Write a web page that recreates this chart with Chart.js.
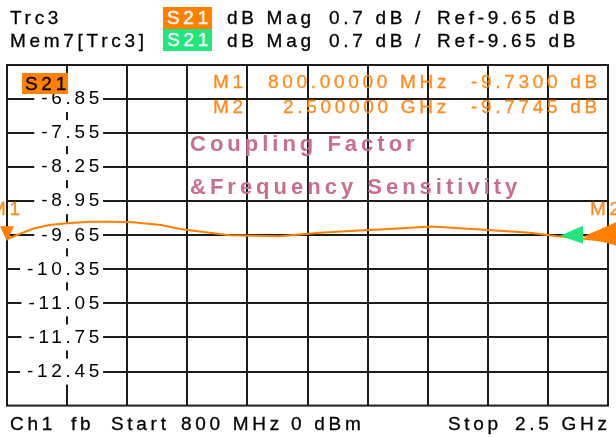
<!DOCTYPE html>
<html>
<head>
<meta charset="utf-8">
<script src="https://cdn.jsdelivr.net/npm/chart.js@4/dist/chart.umd.min.js"></script>
<style>
html,body{margin:0;padding:0;background:#fff;}
#wrap{position:relative;width:616px;height:437px;overflow:hidden;font-family:"Liberation Sans",Arial,sans-serif;}
#c{position:absolute;left:0;top:0;}
.t{position:absolute;white-space:pre;font-size:19px;line-height:22px;letter-spacing:3.7px;color:#000;pointer-events:none;-webkit-text-stroke:0.3px currentColor;}
.o{color:#ff8a1a;}
.box{position:absolute;height:22px;line-height:22px;font-size:19px;letter-spacing:3.7px;white-space:pre;padding-left:4px;box-sizing:border-box;-webkit-text-stroke:0.3px currentColor;}
.big{position:absolute;white-space:pre;font-size:22px;line-height:26px;font-weight:bold;letter-spacing:4px;color:#c96e92;}
</style>
</head>
<body>
<div id="wrap">
<canvas id="c" width="616" height="437"></canvas>

<!-- header -->
<div class="t" style="left:10px;top:7px;">Trc3</div>
<div class="box" style="left:163px;top:7px;width:49px;background:#ff7f00;color:#fff;">S21</div>
<div class="t" style="left:227px;top:7px;">dB Mag</div>
<div class="t" style="left:329px;top:7px;">0.7 dB /</div>
<div class="t" style="left:437px;top:7px;">Ref-9.65 dB</div>

<div class="t" style="left:10px;top:30px;">Mem7[Trc3]</div>
<div class="box" style="left:163px;top:29px;width:49px;background:#22e57c;color:#fff;">S21</div>
<div class="t" style="left:227px;top:30px;">dB Mag</div>
<div class="t" style="left:329px;top:30px;">0.7 dB /</div>
<div class="t" style="left:437px;top:30px;">Ref-9.65 dB</div>

<!-- trace label box in plot -->
<div class="box" style="left:22px;top:73px;width:46px;height:21px;line-height:21px;background:#ff7f00;color:#000;padding-left:3px;">S21</div>

<!-- marker info -->
<div class="t o" style="left:213px;top:71px;">M1</div>
<div class="t o" style="left:268px;top:71px;">800.00000 MHz</div>
<div class="t o" style="left:471px;top:71px;">-9.7300 dB</div>
<div class="t o" style="left:213px;top:96px;">M2</div>
<div class="t o" style="left:283px;top:96px;">2.500000 GHz</div>
<div class="t o" style="left:471px;top:96px;">-9.7745 dB</div>

<!-- annotation -->
<div class="big" style="left:190px;top:131px;">Coupling Factor</div>
<div class="big" style="left:190px;top:174px;">&amp;Frequency Sensitivity</div>

<!-- marker labels -->
<div class="t o" style="left:-10px;top:198px;">M1</div>
<div class="t o" style="left:590px;top:198px;">M2</div>

<!-- footer -->
<div class="t" style="left:10px;top:413px;">Ch1</div>
<div class="t" style="left:71px;top:413px;">fb</div>
<div class="t" style="left:111px;top:413px;">Start</div>
<div class="t" style="left:181px;top:413px;">800 MHz</div>
<div class="t" style="left:291px;top:413px;">0 dBm</div>
<div class="t" style="left:448px;top:413px;">Stop</div>
<div class="t" style="left:515px;top:413px;">2.5 GHz</div>
</div>

<script>
// ---- data ----
const freqMHz = [800, 820, 840, 875, 920, 970, 1035, 1090, 1155, 1235, 1290, 1345, 1430, 1570, 1685, 1770, 1855, 2000, 2140, 2280, 2355, 2420, 2500];
const s21dB   = [-9.73, -9.67, -9.61, -9.51, -9.44, -9.40, -9.37, -9.37, -9.38, -9.44, -9.52, -9.57, -9.65, -9.67, -9.60, -9.56, -9.53, -9.47, -9.53, -9.60, -9.67, -9.71, -9.7745];

const markerFreqMHz = [800, 2500];
const markerDB      = [-9.73, -9.7745];

const yTickValues = [-6.85, -7.55, -8.25, -8.95, -9.65, -10.35, -11.05, -11.75, -12.45];
const xGridMHz    = [970, 1140, 1310, 1480, 1650, 1820, 1990, 2160, 2330];
const xRange = [800, 2500];
const yRange = [-13.15, -6.15];

// ---- chart ----
Chart.defaults.font.family = '"Liberation Sans", Arial, sans-serif';
const GRID = '#1c1c1c';
const LS = '3.7px';

const spacingPlugin = {
  id: 'spacing',
  beforeLayout(chart) { chart.ctx.letterSpacing = LS; },
  beforeDraw(chart) { chart.ctx.letterSpacing = LS; }
};

const framePlugin = {
  id: 'frame',
  beforeDatasetsDraw(chart) {
    const {ctx, chartArea: a} = chart;
    ctx.save();
    ctx.strokeStyle = GRID;
    ctx.lineWidth = 2;
    ctx.strokeRect(a.left, a.top, a.right - a.left, a.bottom - a.top);
    ctx.restore();
  },
  afterDatasetsDraw(chart) {
    const {ctx, scales: {x, y}} = chart;
    ctx.save();
    // M1 : downward triangle, tip on the trace
    let px = x.getPixelForValue(markerFreqMHz[0]);
    let py = y.getPixelForValue(markerDB[0]);
    ctx.fillStyle = '#ff8000';
    ctx.beginPath();
    ctx.moveTo(px - 7, py - 13);
    ctx.lineTo(px + 7, py - 13);
    ctx.lineTo(px, py + 2);
    ctx.closePath();
    ctx.fill();
    // M2 (memory trace, green) and M2 (orange), left-pointing
    px = x.getPixelForValue(markerFreqMHz[1]);
    py = y.getPixelForValue(markerDB[1]);
    ctx.fillStyle = '#22e57c';
    ctx.beginPath();
    ctx.moveTo(px - 48, py - 5.5);
    ctx.lineTo(px - 25, py - 15.5);
    ctx.lineTo(px - 25, py + 2.5);
    ctx.closePath();
    ctx.fill();
    ctx.fillStyle = '#ff8000';
    ctx.beginPath();
    ctx.moveTo(px - 25, py - 4.5);
    ctx.lineTo(px + 9, py - 19.5);
    ctx.lineTo(px + 9, py + 4.5);
    ctx.closePath();
    ctx.fill();
    ctx.restore();
  }
};

const chart = new Chart(document.getElementById('c'), {
  type: 'line',
  data: {
    datasets: [{
      label: 'Trc3 S21',
      data: freqMHz.map((f, i) => ({x: f, y: s21dB[i]})),
      borderColor: '#ff8000',
      borderWidth: 2,
      pointRadius: 0,
      tension: 0,
      fill: false
    }]
  },
  options: {
    responsive: false,
    animation: false,
    devicePixelRatio: 1,
    layout: {padding: {left: 7, top: 65, right: 8, bottom: 31}},
    plugins: {legend: {display: false}, tooltip: {enabled: false}, title: {display: false}},
    scales: {
      x: {
        type: 'linear',
        min: xRange[0], max: xRange[1],
        afterBuildTicks: s => { s.ticks = xGridMHz.map(v => ({value: v})); },
        ticks: {display: false},
        grid: {color: GRID, lineWidth: 2, drawTicks: false},
        border: {display: false}
      },
      y: {
        type: 'linear',
        min: yRange[0], max: yRange[1],
        afterBuildTicks: s => { s.ticks = yTickValues.map(v => ({value: v})); },
        ticks: {
          mirror: true,
          crossAlign: 'far',
          padding: 20,
          autoSkip: false,
          color: '#000',
          font: {size: 19},
          callback: v => Number(v).toFixed(2),
          showLabelBackdrop: true,
          backdropColor: '#ffffff',
          backdropPadding: {top: 1.6, bottom: 1.6, left: 7, right: 0}
        },
        grid: {color: GRID, lineWidth: 2, drawTicks: false},
        border: {display: false}
      }
    }
  },
  plugins: [spacingPlugin, framePlugin]
});

// make the plotting area land exactly on the instrument grid
const target = {left: 7, top: 65, right: 608, bottom: 406};
const ca = chart.chartArea;
const p = chart.options.layout.padding;
p.left += target.left - ca.left;
p.top += target.top - ca.top;
p.right += ca.right - target.right;
p.bottom += ca.bottom - target.bottom;
chart.update();
</script>
</body>
</html>
